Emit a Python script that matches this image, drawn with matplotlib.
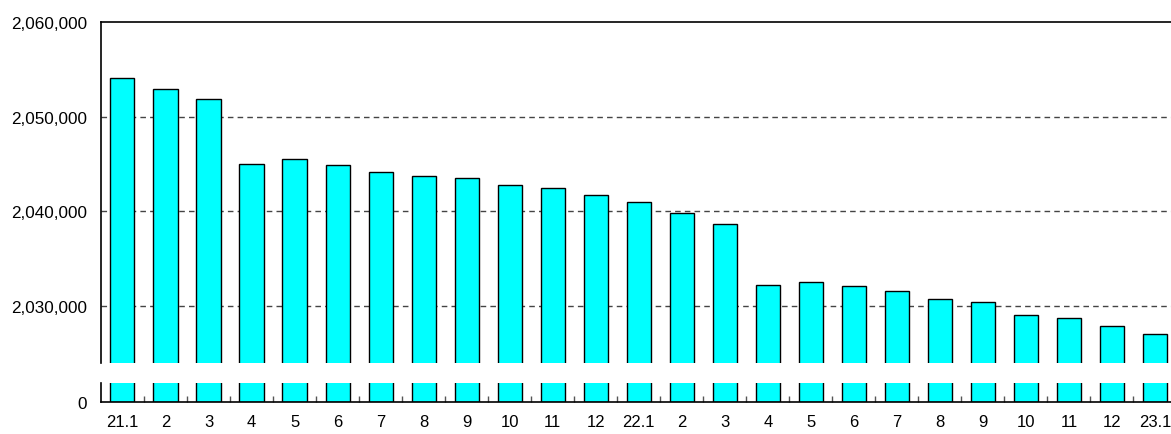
import matplotlib
matplotlib.use("Agg")
import matplotlib.pyplot as plt
import numpy as np

# month labels (21.1 = Jan 2021 ... 23.1 = Jan 2023)
labels = ["21.1", "2", "3", "4", "5", "6", "7", "8", "9", "10", "11", "12",
          "22.1", "2", "3", "4", "5", "6", "7", "8", "9", "10", "11", "12", "23.1"]
values = [2054080, 2052920, 2051800, 2044980, 2045550, 2044870, 2044140, 2043720,
          2043510, 2042810, 2042490, 2041770, 2040990, 2039800, 2038700, 2032280,
          2032560, 2032100, 2031610, 2030770, 2030420, 2029050, 2028740, 2027920,
          2027110]
upper_ticks = [2030000, 2040000, 2050000, 2060000]

plt.rcParams['font.family'] = ['Liberation Sans', 'DejaVu Sans']

fig = plt.figure(figsize=(11.71, 4.35), dpi=100)
ax = fig.add_axes([0.0862, 0.1632, 0.9185, 0.7846])
ax2 = fig.add_axes([0.0862, 0.0747, 0.9185, 0.0425])

x = np.arange(len(values))
bar_style = dict(width=0.56, color="#00FFFF", edgecolor="black", linewidth=1.0, zorder=3)

# upper (zoomed) part
ax.bar(x, values, **bar_style)
ax.set_ylim(2024000, 2060000)
ax.set_xlim(-0.5, len(values) - 0.5)
ax.set_yticks(upper_ticks)
ax.set_yticklabels([f"{v:,}" for v in upper_ticks])
for v in upper_ticks[:-1]:
    ax.axhline(v, color="#444444", linestyle=(0, (4, 3)), linewidth=1.0, zorder=1)
ax.spines["bottom"].set_visible(False)
ax.spines["right"].set_visible(False)
ax.spines["top"].set_linewidth(1.2)
ax.spines["left"].set_linewidth(1.2)
ax.set_xticks([])
ax.tick_params(axis="y", length=0, pad=10, labelsize=12.3)

# lower part near zero
ax2.bar(x, values, **bar_style)
ax2.set_ylim(0, 100000)
ax2.set_xlim(-0.5, len(values) - 0.5)
ax2.set_yticks([0])
ax2.set_yticklabels(["0"])
ax2.set_xticks(x)
ax2.set_xticklabels(labels)
ax2.set_xticks(x[:-1] + 0.5, minor=True)
ax2.tick_params(axis="x", which="major", length=0, pad=9, labelsize=12)
ax2.tick_params(axis="x", which="minor", direction="in", length=4, width=1, color="#555555")
ax2.tick_params(axis="y", length=0, pad=10, labelsize=12.3)
ax2.spines["top"].set_visible(False)
ax2.spines["right"].set_visible(False)
ax2.spines["left"].set_linewidth(1.2)
ax2.spines["bottom"].set_linewidth(1.2)
ax2.spines["bottom"].set_zorder(4)

fig.savefig("out.png", dpi=100)
